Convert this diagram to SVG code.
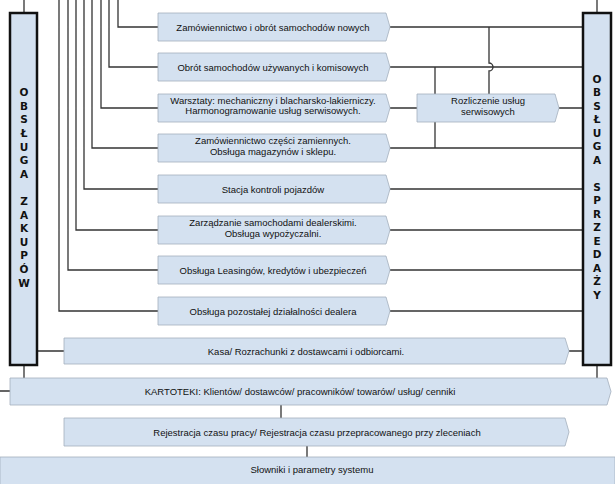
<svg xmlns="http://www.w3.org/2000/svg" width="615" height="484" viewBox="0 0 615 484">
<style>
.bx{fill:#d4e1f0;stroke:#a3afbd;stroke-width:0.8}
.side{fill:#d4e1f0;stroke:#111;stroke-width:2.5}
.ln{fill:none;stroke:#333;stroke-width:1.3}
.t{font-family:"Liberation Sans",Arial,sans-serif;font-size:9.5px;fill:#111;text-anchor:middle}
.v{font-family:"DejaVu Sans",Verdana,sans-serif;font-size:10.5px;font-weight:bold;fill:#111;text-anchor:middle}
</style>
<rect width="615" height="484" fill="#fff"/>
<g id="connectors" class="ln">
<path d="M24,0V13M24,365V378M597,0V13M597,365V378"/>
<path d="M118,0V27H158M109,0V67H158M101,0V108H158M92,0V148H158M84,0V189H158M76,0V230H158M68,0V270H158M59,0V311H158"/>
<path d="M390,27H583M390,67H583M390,108H417M559,108H583M390,148H583M390,189H583M390,230H583M390,270H583M390,311H583"/>
<path d="M435,67V148"/>
<path d="M489,27V63A4,4 0 0 1 489,71V94"/>
<path d="M37,351H64M569,351H583M0,391H10M281,405V418M307,446V457"/>
</g>
<g id="n-zakupow"><rect class="side" x="10" y="13" width="27" height="352"/>
<text class="v"><tspan x="24" y="96">O</tspan><tspan x="24" y="110">B</tspan><tspan x="24" y="123">S</tspan><tspan x="24" y="137">Ł</tspan><tspan x="24" y="151">U</tspan><tspan x="24" y="164">G</tspan><tspan x="24" y="178">A</tspan><tspan x="24" y="205">Z</tspan><tspan x="24" y="219">A</tspan><tspan x="24" y="232">K</tspan><tspan x="24" y="246">U</tspan><tspan x="24" y="259">P</tspan><tspan x="24" y="273">Ó</tspan><tspan x="24" y="287">W</tspan></text></g>
<g id="n-sprzedazy"><rect class="side" x="583" y="13" width="28" height="352"/>
<text class="v"><tspan x="597" y="83">O</tspan><tspan x="597" y="96">B</tspan><tspan x="597" y="110">S</tspan><tspan x="597" y="123">Ł</tspan><tspan x="597" y="137">U</tspan><tspan x="597" y="150">G</tspan><tspan x="597" y="164">A</tspan><tspan x="597" y="191">S</tspan><tspan x="597" y="204">P</tspan><tspan x="597" y="218">R</tspan><tspan x="597" y="231">Z</tspan><tspan x="597" y="245">E</tspan><tspan x="597" y="258">D</tspan><tspan x="597" y="272">A</tspan><tspan x="597" y="285">Ż</tspan><tspan x="597" y="299">Y</tspan></text></g>
<g id="n1"><path class="bx" d="M158,13H386L390,27L386,41H158Z"/><text class="t" x="273" y="30.5">Zamówiennictwo i obrót samochodów nowych</text></g>
<g id="n2"><path class="bx" d="M158,53H386L390,67L386,81H158Z"/><text class="t" x="273" y="70.5">Obrót samochodów używanych i komisowych</text></g>
<g id="n3"><path class="bx" d="M158,94H386L390,108L386,122H158Z"/><text class="t" x="273" y="103.5">Warsztaty: mechaniczny i blacharsko-lakierniczy.</text><text class="t" x="273" y="114">Harmonogramowanie usług serwisowych.</text></g>
<g id="n4"><path class="bx" d="M158,134H386L390,148L386,162H158Z"/><text class="t" x="273" y="144">Zamówiennictwo części zamiennych.</text><text class="t" x="273" y="154.5">Obsługa magazynów i sklepu.</text></g>
<g id="n5"><path class="bx" d="M158,175H386L390,189L386,203H158Z"/><text class="t" x="273" y="192.5">Stacja kontroli pojazdów</text></g>
<g id="n6"><path class="bx" d="M158,216H386L390,230L386,244H158Z"/><text class="t" x="273" y="226">Zarządzanie samochodami dealerskimi.</text><text class="t" x="273" y="236.5">Obsługa wypożyczalni.</text></g>
<g id="n7"><path class="bx" d="M158,256H386L390,270L386,284H158Z"/><text class="t" x="273" y="273.5">Obsługa Leasingów, kredytów i ubezpieczeń</text></g>
<g id="n8"><path class="bx" d="M158,297H386L390,311L386,325H158Z"/><text class="t" x="273" y="314.5">Obsługa pozostałej działalności dealera</text></g>
<g id="n-rozliczenie"><path class="bx" d="M417,94H555L559,108L555,122H417Z"/><text class="t" x="488" y="104">Rozliczenie usług</text><text class="t" x="488" y="114.5">serwisowych</text></g>
<g id="n-kasa"><path class="bx" d="M64,338H565L569,351L565,364H64Z"/><text class="t" x="306" y="354.5">Kasa/ Rozrachunki z dostawcami i odbiorcami.</text></g>
<g id="n-kartoteki"><path class="bx" d="M10,378H607L611,391.5L607,405H10Z"/><text class="t" x="300" y="395">KARTOTEKI: Klientów/ dostawców/ pracowników/ towarów/ usług/ cenniki</text></g>
<g id="n-rejestracja"><path class="bx" d="M64,418H565L569,432L565,446H64Z"/><text class="t" x="317" y="435.5">Rejestracja czasu pracy/ Rejestracja czasu przepracowanego przy zleceniach</text></g>
<g id="n-slowniki"><rect class="bx" x="0" y="457" width="615" height="28"/><text class="t" x="312" y="473">Słowniki i parametry systemu</text></g>
</svg>
